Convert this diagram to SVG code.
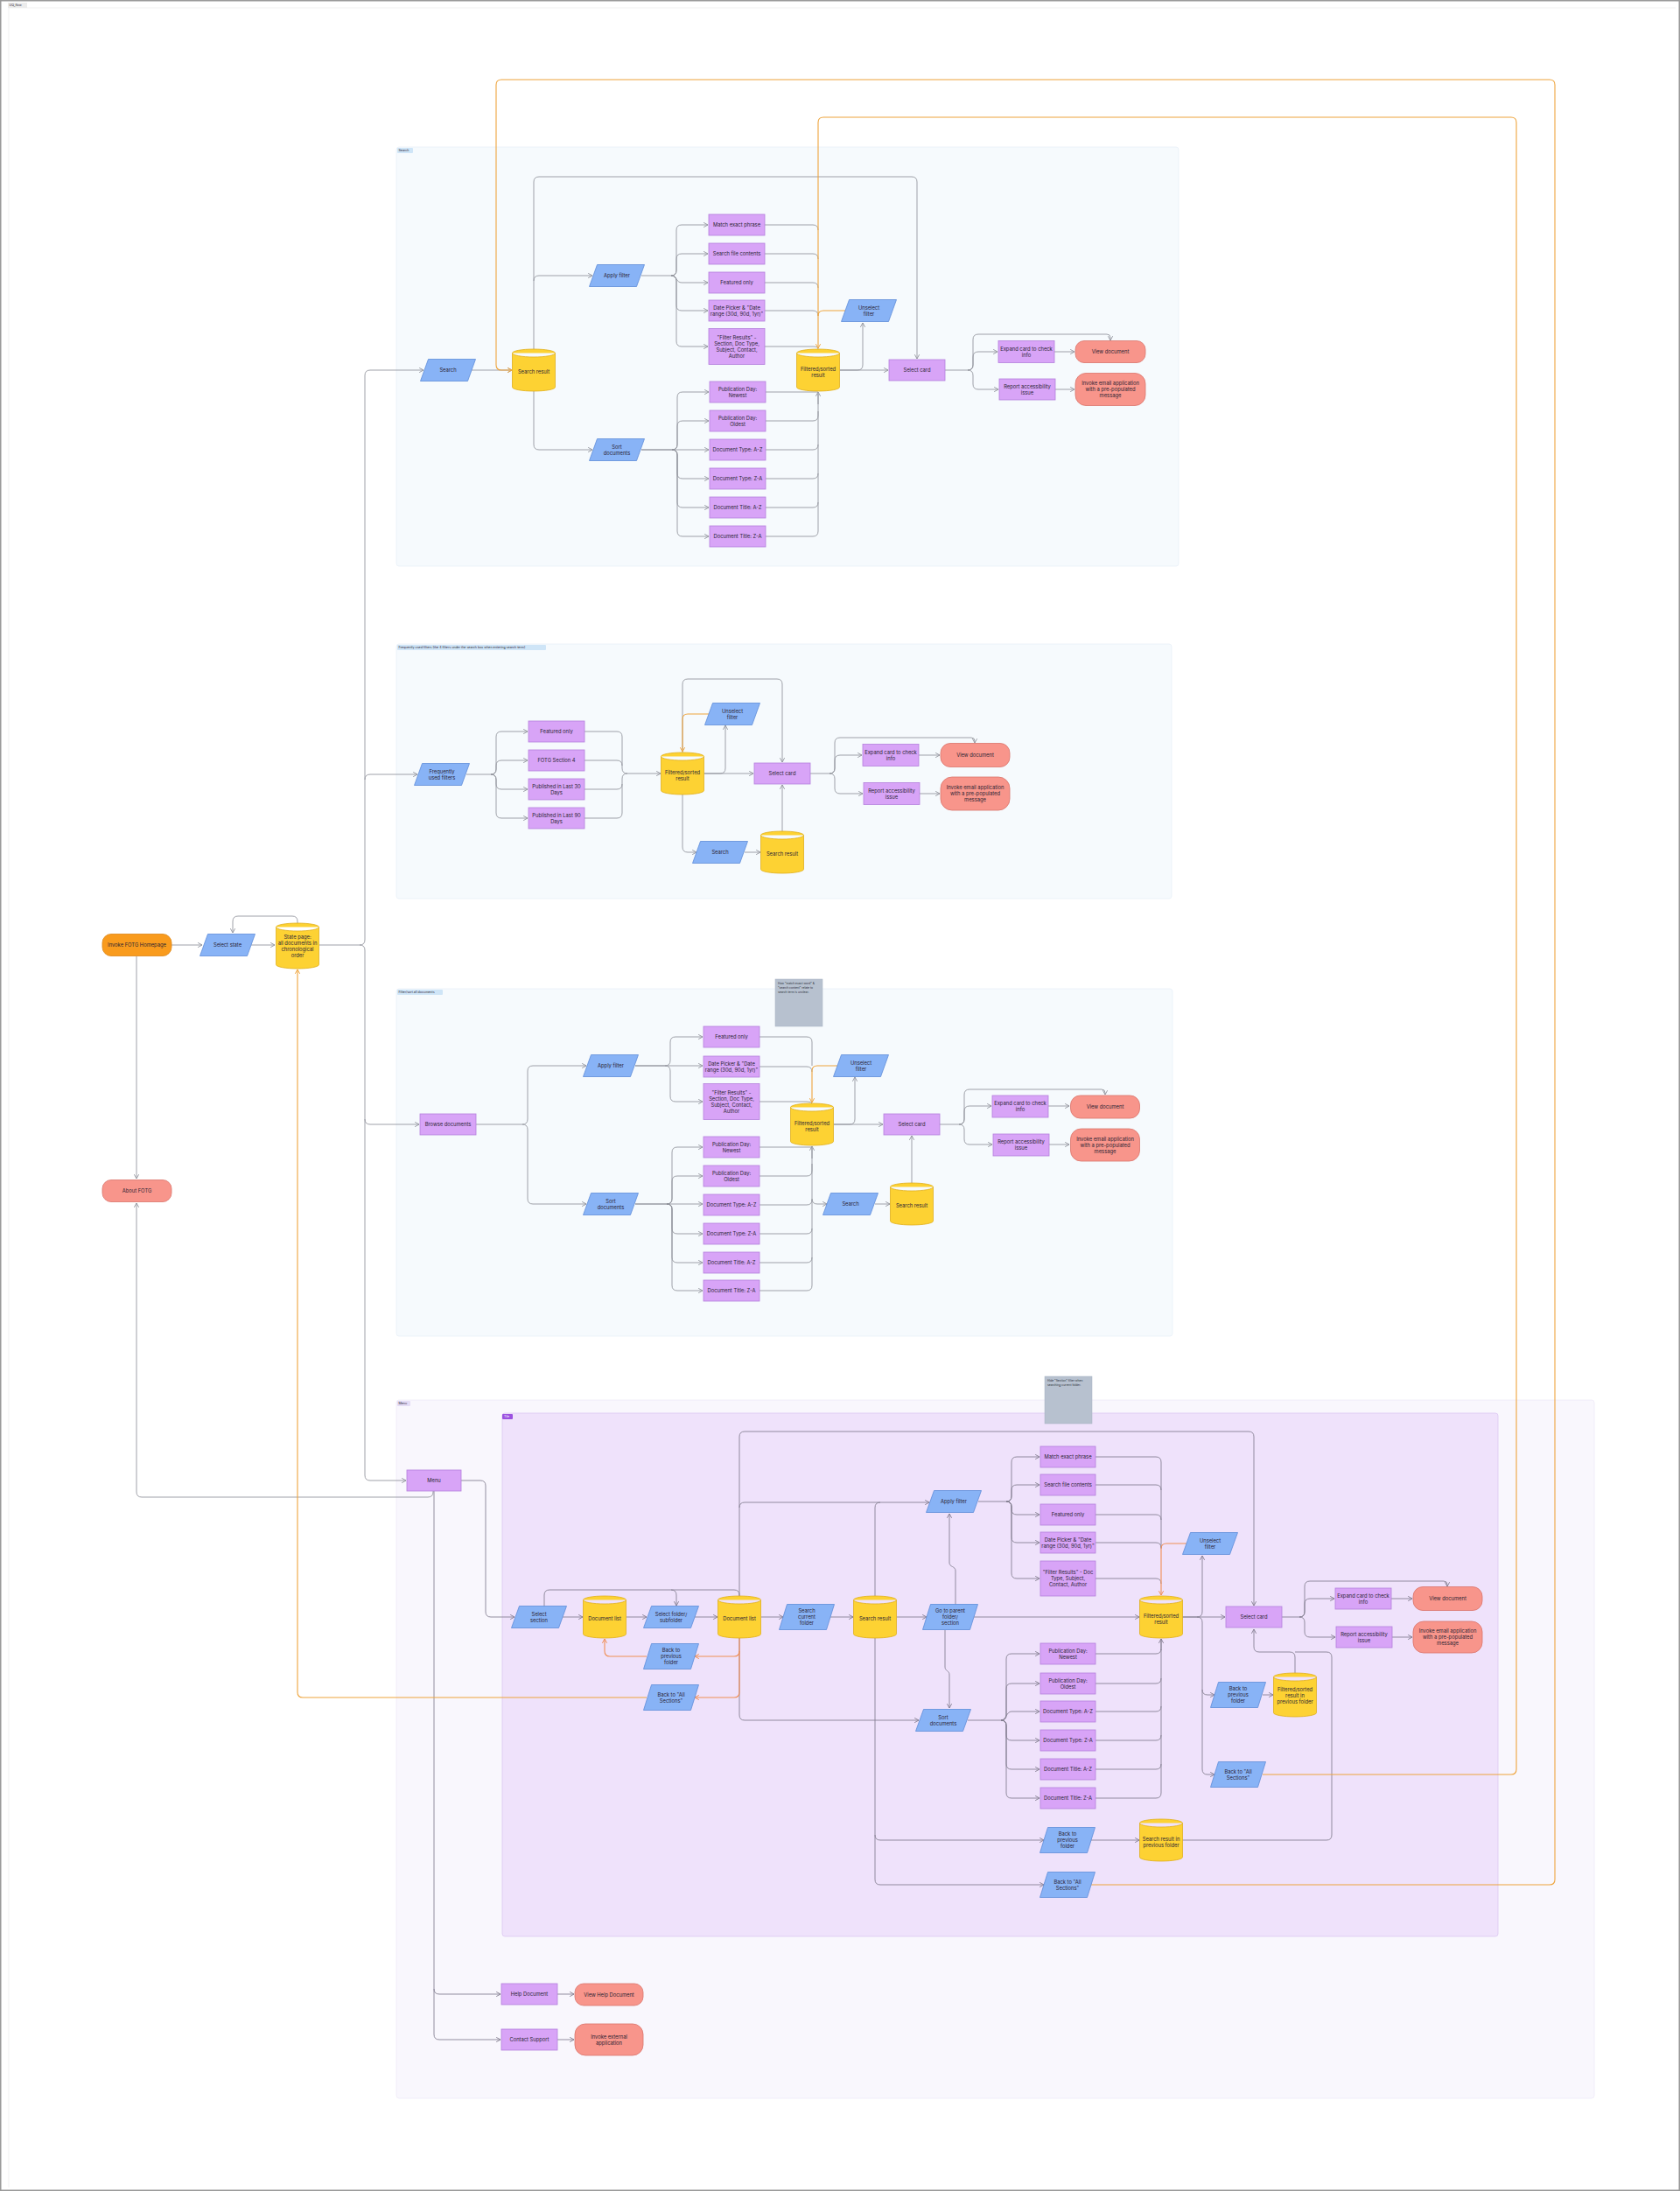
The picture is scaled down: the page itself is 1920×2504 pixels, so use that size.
<svg xmlns="http://www.w3.org/2000/svg" width="1920" height="2504" viewBox="0 0 1920 2504">
<defs>
<style>
.t{font-family:Inter,"Liberation Sans",Arial,sans-serif;font-size:5.8px;fill:#2b2433;text-anchor:middle}
.tag{font-family:Inter,"Liberation Sans",Arial,sans-serif;font-size:3.6px;fill:#2b2433}
.nt{font-family:Inter,"Liberation Sans",Arial,sans-serif;font-size:3.3px;fill:#2b2f3a}
.p{fill:#d8a4f7;stroke:#b47fdc;stroke-width:0.8}
.io{fill:#88b3f6;stroke:#5d8cd8;stroke-width:0.8;stroke-linejoin:round}
.db{fill:#fdd233;stroke:#dfae1d;stroke-width:0.8}
.e{fill:#f8958b;stroke:#d9736b;stroke-width:0.8}
.s{fill:#f99b1d;stroke:#db8413;stroke-width:0.8}
.c{fill:none;stroke:#8f919a;stroke-width:0.85}
.cm{fill:none;stroke:#817c8e;stroke-width:0.85}
.o{fill:none;stroke:#eea43c;stroke-width:1.1}
.om{fill:none;stroke:#f08f55;stroke-width:1.1}
.sec{fill:#f6fafd;stroke:#e8f0f8;stroke-width:0.8}
.note{fill:#b7c1cf;stroke:#a9b3c2;stroke-width:0.5}
</style>
<marker id="ag" viewBox="0 0 8 8" refX="7" refY="4" markerWidth="7" markerHeight="7" markerUnits="userSpaceOnUse" orient="auto"><path d="M1.5,1 L7,4 L1.5,7" fill="none" stroke="#8f919a" stroke-width="1"/></marker>
<marker id="am" viewBox="0 0 8 8" refX="7" refY="4" markerWidth="7" markerHeight="7" markerUnits="userSpaceOnUse" orient="auto"><path d="M1.5,1 L7,4 L1.5,7" fill="none" stroke="#817c8e" stroke-width="1"/></marker>
<marker id="ao" viewBox="0 0 8 8" refX="7" refY="4" markerWidth="7" markerHeight="7" markerUnits="userSpaceOnUse" orient="auto"><path d="M1.5,1 L7,4 L1.5,7" fill="none" stroke="#eea43c" stroke-width="1.1"/></marker>
<marker id="aom" viewBox="0 0 8 8" refX="7" refY="4" markerWidth="7" markerHeight="7" markerUnits="userSpaceOnUse" orient="auto"><path d="M1.5,1 L7,4 L1.5,7" fill="none" stroke="#f08f55" stroke-width="1.1"/></marker>
</defs>

<rect x="0" y="0" width="1920" height="2504" fill="#ffffff"/>
<rect x="0.75" y="0.75" width="1918.5" height="2502.5" fill="none" stroke="#9a9a9a" stroke-width="1.5"/>
<path d="M10,2500 V9 H1915" fill="none" stroke="#e8e8e8" stroke-width="0.6"/>
<rect x="9" y="3" width="22" height="6" fill="#ececec"/>
<text class="tag" x="10.5" y="7.3">UQ_flow</text>

<!-- sections -->
<g id="section-search">
<rect class="sec" x="453" y="168" width="894" height="479" rx="3"/>
<rect x="454" y="169" width="18" height="6" rx="1" fill="#cfe5f7"/>
<text class="tag" x="455.5" y="173.3">Search</text>
</g>
<g id="section-frequent">
<rect class="sec" x="453" y="736" width="886" height="291" rx="3"/>
<rect x="454" y="737" width="170" height="6" rx="1" fill="#cfe5f7"/>
<text class="tag" x="455.5" y="741.3">Frequently used filters (the 4 filters under the search box when entering search term)</text>
</g>
<g id="section-browse">
<rect class="sec" x="453" y="1130" width="887" height="397" rx="3"/>
<rect x="454" y="1131" width="52" height="6" rx="1" fill="#cfe5f7"/>
<text class="tag" x="455.5" y="1135.3">Filter/sort all documents</text>
</g>
<g id="section-menu">
<rect x="453" y="1600" width="1369" height="798" rx="3" fill="#f9f7fd" stroke="#efeaf8" stroke-width="0.8"/>
<rect x="454" y="1601" width="15" height="6" rx="1" fill="#e4dcf5"/>
<text class="tag" x="455.5" y="1605.3">Menu</text>
<rect x="574" y="1615" width="1138" height="598" rx="3" fill="#efe2fb" stroke="#dcc8f3" stroke-width="0.8"/>
<rect x="574" y="1616" width="12" height="6" rx="1" fill="#9b51e0"/>
<text class="tag" x="576" y="1620.3" style="fill:#ffffff">Tile</text>
</g>
<g id="note-1">
<rect class="note" x="886" y="1119" width="54" height="54"/>
<text class="nt" x="889" y="1125">How "match exact word" &amp;</text>
<text class="nt" x="889" y="1130">"search content" relate to</text>
<text class="nt" x="889" y="1135">search term is unclear.</text>
</g>
<g id="note-2">
<rect class="note" x="1194" y="1573" width="54" height="54"/>
<text class="nt" x="1197" y="1579">Hide "Section" filter when</text>
<text class="nt" x="1197" y="1584">searching current folder.</text>
</g>

<!-- connectors -->
<g id="connectors">
<!-- left -->
<path class="c" d="M196,1080 H231" marker-end="url(#ag)"/>
<path class="c" d="M287,1080 H314" marker-end="url(#ag)"/>
<path class="c" d="M340,1055 V1053 Q340,1047 334,1047 H272 Q266,1047 266,1053 V1066" marker-end="url(#ag)"/>
<path class="c" d="M156,1093 V1347" marker-end="url(#ag)"/>
<path class="c" d="M365,1080 H411 Q417,1080 417,1074 V429 Q417,423 423,423 H484" marker-end="url(#ag)"/>
<path class="c" d="M417,891 Q417,885 423,885 H477" marker-end="url(#ag)"/>
<path class="c" d="M411,1080 Q417,1080 417,1086 V1279 Q417,1285 423,1285 H479" marker-end="url(#ag)"/>
<path class="c" d="M417,1279 V1686 Q417,1692 423,1692 H464" marker-end="url(#ag)"/>
<path class="c" d="M495,1704 V1705 Q495,1711 489,1711 H162 Q156,1711 156,1705 V1375" marker-end="url(#ag)"/>

<!-- search section -->
<path class="c" d="M539,423 H585" marker-end="url(#ag)"/>
<path class="c" d="M610,399 V208 Q610,202 616,202 H1042 Q1048,202 1048,208 V410" marker-end="url(#ag)"/>
<path class="c" d="M610,321 Q610,315 616,315 H677" marker-end="url(#ag)"/>
<path class="c" d="M610,447 V508 Q610,514 616,514 H677" marker-end="url(#ag)"/>
<path class="c" d="M733,315 H767 Q773,315 773,309 V263 Q773,257 779,257 H809" marker-end="url(#ag)"/>
<path class="c" d="M767,315 Q773,315 773,309 V296 Q773,290 779,290 H809" marker-end="url(#ag)"/>
<path class="c" d="M767,315 C773,315 773,323 779,323 H809" marker-end="url(#ag)"/>
<path class="c" d="M767,315 Q773,315 773,321 V349 Q773,355 779,355 H809" marker-end="url(#ag)"/>
<path class="c" d="M767,315 Q773,315 773,321 V390 Q773,396 779,396 H809" marker-end="url(#ag)"/>
<path class="c" d="M733,514 H768 Q774,514 774,508 V454 Q774,448 780,448 H810" marker-end="url(#ag)"/>
<path class="c" d="M768,514 Q774,514 774,508 V487 Q774,481 780,481 H810" marker-end="url(#ag)"/>
<path class="c" d="M733,514 H810" marker-end="url(#ag)"/>
<path class="c" d="M768,514 Q774,514 774,520 V541 Q774,547 780,547 H810" marker-end="url(#ag)"/>
<path class="c" d="M768,514 Q774,514 774,520 V574 Q774,580 780,580 H810" marker-end="url(#ag)"/>
<path class="c" d="M768,514 Q774,514 774,520 V607 Q774,613 780,613 H810" marker-end="url(#ag)"/>
<path class="c" d="M874,257 H929 Q935,257 935,263 M874,290 H929 Q935,290 935,296 M874,323 H929 Q935,323 935,329 M874,355 H929 Q935,355 935,361 M874,396 H929 Q935,396 935,399"/>
<path class="c" d="M875,448 H935 M875,481 H929 Q935,481 935,475 V450 M875,514 H929 Q935,514 935,508 M875,547 H929 Q935,547 935,541 M875,580 H929 Q935,580 935,574 M875,613 H929 Q935,613 935,607 V470"/>
<path class="c" d="M935,462 V448" marker-end="url(#ag)"/>
<path class="c" d="M960,423 H1015" marker-end="url(#ag)"/>
<path class="c" d="M960,423 H980 Q986,423 986,417 V369" marker-end="url(#ag)"/>
<path class="c" d="M1080,423 H1106 Q1112,423 1112,417 V388 Q1112,382 1118,382 H1265 Q1269,382 1269,386 V389" marker-end="url(#ag)"/>
<path class="c" d="M1106,423 Q1112,423 1112,417 V408 Q1112,402 1118,402 H1140" marker-end="url(#ag)"/>
<path class="c" d="M1106,423 Q1112,423 1112,429 V439 Q1112,445 1118,445 H1141" marker-end="url(#ag)"/>
<path class="c" d="M1205,402 H1228" marker-end="url(#ag)"/>
<path class="c" d="M1206,445 H1228" marker-end="url(#ag)"/>

<!-- frequently used -->
<path class="c" d="M533,885 H561 Q567,885 567,879 V842 Q567,836 573,836 H603" marker-end="url(#ag)"/>
<path class="c" d="M561,885 Q567,885 567,879 V875 Q567,869 573,869 H603" marker-end="url(#ag)"/>
<path class="c" d="M561,885 Q567,885 567,891 V896 Q567,902 573,902 H603" marker-end="url(#ag)"/>
<path class="c" d="M561,885 Q567,885 567,891 V929 Q567,935 573,935 H603" marker-end="url(#ag)"/>
<path class="c" d="M668,836 H705 Q711,836 711,842 V878 Q711,884 717,884 M668,869 H705 Q711,869 711,875 M668,902 H705 Q711,902 711,896 V890 Q711,884 717,884 M668,935 H705 Q711,935 711,929 V896"/>
<path class="c" d="M717,884 H755" marker-end="url(#ag)"/>
<path class="c" d="M780,860 V782 Q780,776 786,776 H888 Q894,776 894,782 V871" marker-end="url(#ag)"/>
<path class="c" d="M805,884 H861" marker-end="url(#ag)"/>
<path class="c" d="M805,884 H823 Q829,884 829,878 V829" marker-end="url(#ag)"/>
<path class="c" d="M780,908 V968 Q780,974 786,974 H796" marker-end="url(#ag)"/>
<path class="c" d="M851,974 H869" marker-end="url(#ag)"/>
<path class="c" d="M894,950 V897" marker-end="url(#ag)"/>
<path class="c" d="M926,884 H948 Q954,884 954,878 V849 Q954,843 960,843 H1110 Q1114,843 1114,847 V849" marker-end="url(#ag)"/>
<path class="c" d="M948,884 Q954,884 954,878 V869 Q954,863 960,863 H985" marker-end="url(#ag)"/>
<path class="c" d="M948,884 Q954,884 954,890 V901 Q954,907 960,907 H986" marker-end="url(#ag)"/>
<path class="c" d="M1050,863 H1074" marker-end="url(#ag)"/>
<path class="c" d="M1051,907 H1074" marker-end="url(#ag)"/>

<!-- browse -->
<path class="c" d="M544,1285 H597 Q603,1285 603,1279 V1224 Q603,1218 609,1218 H670" marker-end="url(#ag)"/>
<path class="c" d="M597,1285 Q603,1285 603,1291 V1370 Q603,1376 609,1376 H670" marker-end="url(#ag)"/>
<path class="c" d="M726,1218 H760 Q766,1218 766,1212 V1191 Q766,1185 772,1185 H803" marker-end="url(#ag)"/>
<path class="c" d="M726,1218 H803" marker-end="url(#ag)"/>
<path class="c" d="M760,1218 Q766,1218 766,1224 V1253 Q766,1259 772,1259 H803" marker-end="url(#ag)"/>
<path class="c" d="M726,1376 H762 Q768,1376 768,1370 V1317 Q768,1311 774,1311 H803" marker-end="url(#ag)"/>
<path class="c" d="M762,1376 Q768,1376 768,1370 V1350 Q768,1344 774,1344 H803" marker-end="url(#ag)"/>
<path class="c" d="M726,1376 H803" marker-end="url(#ag)"/>
<path class="c" d="M762,1376 Q768,1376 768,1382 V1404 Q768,1410 774,1410 H803" marker-end="url(#ag)"/>
<path class="c" d="M762,1376 Q768,1376 768,1382 V1437 Q768,1443 774,1443 H803" marker-end="url(#ag)"/>
<path class="c" d="M762,1376 Q768,1376 768,1382 V1469 Q768,1475 774,1475 H803" marker-end="url(#ag)"/>
<path class="c" d="M868,1185 H922 Q928,1185 928,1191 V1218 M868,1219 H922 Q928,1219 928,1225 M868,1259 H922 Q928,1259 928,1261"/>
<path class="c" d="M868,1311 H928 M868,1344 H922 Q928,1344 928,1338 V1312 M868,1377 H922 Q928,1377 928,1371 M868,1410 H922 Q928,1410 928,1404 M868,1443 H922 Q928,1443 928,1437 M868,1475 H922 Q928,1475 928,1469 V1330"/>
<path class="c" d="M928,1324 V1310" marker-end="url(#ag)"/>
<path class="c" d="M928,1370 Q928,1376 934,1376 H945" marker-end="url(#ag)"/>
<path class="c" d="M953,1285 H1009" marker-end="url(#ag)"/>
<path class="c" d="M953,1285 H971 Q977,1285 977,1279 V1231" marker-end="url(#ag)"/>
<path class="c" d="M1000,1376 H1017" marker-end="url(#ag)"/>
<path class="c" d="M1042,1352 V1298" marker-end="url(#ag)"/>
<path class="c" d="M1074,1285 H1096 Q1102,1285 1102,1279 V1251 Q1102,1245 1108,1245 H1259 Q1263,1245 1263,1249 V1251" marker-end="url(#ag)"/>
<path class="c" d="M1096,1285 Q1102,1285 1102,1279 V1270 Q1102,1264 1108,1264 H1133" marker-end="url(#ag)"/>
<path class="c" d="M1096,1285 Q1102,1285 1102,1291 V1302 Q1102,1308 1108,1308 H1134" marker-end="url(#ag)"/>
<path class="c" d="M1198,1264 H1222" marker-end="url(#ag)"/>
<path class="c" d="M1199,1308 H1222" marker-end="url(#ag)"/>

<!-- menu -->
<path class="cm" d="M527,1692 H549 Q555,1692 555,1698 V1842 Q555,1848 561,1848 H588" marker-end="url(#am)"/>
<path class="cm" d="M496,1704 V2273 Q496,2279 502,2279 H572" marker-end="url(#am)"/>
<path class="cm" d="M496,2273 V2325 Q496,2331 502,2331 H572" marker-end="url(#am)"/>
<path class="cm" d="M637,2279 H656" marker-end="url(#am)"/>
<path class="cm" d="M637,2331 H656" marker-end="url(#am)"/>
<path class="cm" d="M643,1848 H666" marker-end="url(#am)"/>
<path class="cm" d="M716,1848 H739" marker-end="url(#am)"/>
<path class="cm" d="M794,1848 H820" marker-end="url(#am)"/>
<path class="cm" d="M870,1848 H895" marker-end="url(#am)"/>
<path class="cm" d="M949,1848 H975" marker-end="url(#am)"/>
<path class="cm" d="M1025,1848 H1059" marker-end="url(#am)"/>
<path class="cm" d="M1113,1848 H1302" marker-end="url(#am)"/>
<path class="cm" d="M622,1836 V1823 Q622,1817 628,1817 H839 Q845,1817 845,1823 V1824"/>
<path class="cm" d="M767,1817 Q773,1817 773,1823 V1835" marker-end="url(#am)"/>
<path class="cm" d="M845,1824 V1642 Q845,1636 851,1636 H1427 Q1433,1636 1433,1642 V1835" marker-end="url(#am)"/>
<path class="cm" d="M845,1723 Q845,1717 851,1717 H1062" marker-end="url(#am)"/>
<path class="cm" d="M1000,1824 V1723 Q1000,1717 1006,1717"/>
<path class="cm" d="M1092,1834 V1795 C1092,1790 1085,1791 1085,1786 V1730" marker-end="url(#am)"/>
<path class="cm" d="M1080,1863 V1905 C1080,1910 1085,1909 1085,1914 V1952" marker-end="url(#am)"/>
<path class="cm" d="M845,1872 V1960 Q845,1966 851,1966 H1050" marker-end="url(#am)"/>
<path class="cm" d="M1000,1872 V2097 Q1000,2103 1006,2103 H1193" marker-end="url(#am)"/>
<path class="cm" d="M1000,2097 V2148 Q1000,2154 1006,2154 H1193" marker-end="url(#am)"/>
<path class="cm" d="M1118,1716 H1150 Q1156,1716 1156,1710 V1671 Q1156,1665 1162,1665 H1188" marker-end="url(#am)"/>
<path class="cm" d="M1150,1716 Q1156,1716 1156,1710 V1703 Q1156,1697 1162,1697 H1188" marker-end="url(#am)"/>
<path class="cm" d="M1150,1716 Q1156,1716 1156,1722 V1725 Q1156,1731 1162,1731 H1188" marker-end="url(#am)"/>
<path class="cm" d="M1150,1716 Q1156,1716 1156,1722 V1757 Q1156,1763 1162,1763 H1188" marker-end="url(#am)"/>
<path class="cm" d="M1150,1716 Q1156,1716 1156,1722 V1798 Q1156,1804 1162,1804 H1188" marker-end="url(#am)"/>
<path class="cm" d="M1106,1966 H1144 Q1150,1966 1150,1960 V1896 Q1150,1890 1156,1890 H1188" marker-end="url(#am)"/>
<path class="cm" d="M1144,1966 Q1150,1966 1150,1960 V1930 Q1150,1924 1156,1924 H1188" marker-end="url(#am)"/>
<path class="cm" d="M1144,1966 C1150,1966 1150,1956 1156,1956 H1188" marker-end="url(#am)"/>
<path class="cm" d="M1144,1966 Q1150,1966 1150,1972 V1983 Q1150,1989 1156,1989 H1188" marker-end="url(#am)"/>
<path class="cm" d="M1144,1966 Q1150,1966 1150,1972 V2016 Q1150,2022 1156,2022 H1188" marker-end="url(#am)"/>
<path class="cm" d="M1144,1966 Q1150,1966 1150,1972 V2049 Q1150,2055 1156,2055 H1188" marker-end="url(#am)"/>
<path class="cm" d="M1252,1665 H1321 Q1327,1665 1327,1671 V1770 M1252,1697 H1321 Q1327,1697 1327,1703 M1252,1731 H1321 Q1327,1731 1327,1737 M1252,1763 H1321 Q1327,1763 1327,1769 M1252,1804 H1321 Q1327,1804 1327,1810"/>
<path class="cm" d="M1252,1890 H1321 Q1327,1890 1327,1884 V1873 M1252,1924 H1321 Q1327,1924 1327,1918 M1252,1956 H1321 Q1327,1956 1327,1950 M1252,1989 H1321 Q1327,1989 1327,1983 M1252,2022 H1321 Q1327,2022 1327,2016 M1252,2055 H1321 Q1327,2055 1327,2049 V1885"/>
<path class="cm" d="M1327,1886 V1873" marker-end="url(#am)"/>
<path class="cm" d="M1351,1848 H1400" marker-end="url(#am)"/>
<path class="cm" d="M1351,1848 H1368 Q1374,1848 1374,1842 V1778" marker-end="url(#am)"/>
<path class="cm" d="M1368,1848 Q1374,1848 1374,1854 V1931 Q1374,1937 1380,1937 H1388" marker-end="url(#am)"/>
<path class="cm" d="M1374,1931 V2022 Q1374,2028 1380,2028 H1388" marker-end="url(#am)"/>
<path class="cm" d="M1443,1937 H1455" marker-end="url(#am)"/>
<path class="cm" d="M1480,1912 V1894 Q1480,1888 1474,1888 H1439 Q1433,1888 1433,1882 V1862" marker-end="url(#am)"/>
<path class="cm" d="M1351,2103 H1516 Q1522,2103 1522,2097 V1894 Q1522,1888 1516,1888 H1480"/>
<path class="cm" d="M1247,2103 H1302" marker-end="url(#am)"/>
<path class="cm" d="M1465,1848 H1485 Q1491,1848 1491,1842 V1813 Q1491,1807 1497,1807 H1650 Q1654,1807 1654,1811 V1813" marker-end="url(#am)"/>
<path class="cm" d="M1485,1848 Q1491,1848 1491,1842 V1833 Q1491,1827 1497,1827 H1525" marker-end="url(#am)"/>
<path class="cm" d="M1485,1848 Q1491,1848 1491,1854 V1865 Q1491,1871 1497,1871 H1526" marker-end="url(#am)"/>
<path class="cm" d="M1590,1827 H1614" marker-end="url(#am)"/>
<path class="cm" d="M1591,1871 H1614" marker-end="url(#am)"/>

<!-- orange -->
<path class="o" d="M1247,2154 H1771 Q1777,2154 1777,2148 V97 Q1777,91 1771,91 H573 Q567,91 567,97 V417 Q567,423 573,423 H585" marker-end="url(#ao)"/>
<path class="o" d="M1443,2028 H1727 Q1733,2028 1733,2022 V140 Q1733,134 1727,134 H941 Q935,134 935,140 V398" marker-end="url(#ao)"/>
<path class="o" d="M966,355 H941 Q935,355 935,361"/>
<path class="o" d="M811,816 H786 Q780,816 780,822 V859" marker-end="url(#ao)"/>
<path class="o" d="M957,1218 H934 Q928,1218 928,1224 V1260" marker-end="url(#ao)"/>
<path class="o" d="M739,1940 H346 Q340,1940 340,1934 V1108" marker-end="url(#ao)"/>
<path class="om" d="M845,1872 V1887 Q845,1893 839,1893 H794" marker-end="url(#aom)"/>
<path class="om" d="M845,1887 V1934 Q845,1940 839,1940 H794" marker-end="url(#aom)"/>
<path class="om" d="M739,1893 H697 Q691,1893 691,1887 V1873" marker-end="url(#aom)"/>
<path class="om" d="M1356,1764 H1333 Q1327,1764 1327,1770 V1823" marker-end="url(#aom)"/>
</g>

<!-- left nodes -->
<g id="invoke-fotg"><rect class="s" x="117" y="1067.5" width="79" height="25" rx="10"/><text class="t" x="156.5" y="1082">Invoke FOTG Homepage</text></g>
<g id="select-state"><polygon class="io" points="237.5,1067.5 291.5,1067.5 282.5,1092.5 228.5,1092.5"/><text class="t" x="260" y="1082">Select state</text></g>
<g id="state-page"><path class="db" d="M315.5,1059.5 A24.5,4.5 0 0 1 364.5,1059.5 V1102.5 A24.5,4.5 0 0 1 315.5,1102.5 Z M315.5,1059.5 A24.5,4.5 0 0 0 364.5,1059.5"/><text class="t" x="340" y="1073"><tspan>State page:</tspan><tspan x="340" dy="7">all documents in</tspan><tspan x="340" dy="7">chronological</tspan><tspan x="340" dy="7">order</tspan></text></g>
<g id="about-fotg"><rect class="e" x="117" y="1348.5" width="79" height="25" rx="10"/><text class="t" x="156.5" y="1363">About FOTG</text></g>

<!-- search nodes -->
<g id="s-search"><polygon class="io" points="489.5,410.5 543.5,410.5 534.5,435.5 480.5,435.5"/><text class="t" x="512" y="425">Search</text></g>
<g id="s-result"><path class="db" d="M585.5,403.5 A24.5,4.5 0 0 1 634.5,403.5 V442.5 A24.5,4.5 0 0 1 585.5,442.5 Z M585.5,403.5 A24.5,4.5 0 0 0 634.5,403.5"/><text class="t" x="610" y="427">Search result</text></g>
<g id="s-apply"><polygon class="io" points="682.5,302.5 736.5,302.5 727.5,327.5 673.5,327.5"/><text class="t" x="705" y="317">Apply filter</text></g>
<g id="s-sort"><polygon class="io" points="682.5,501.5 736.5,501.5 727.5,526.5 673.5,526.5"/><text class="t" x="705" y="512.5"><tspan>Sort</tspan><tspan x="705" dy="7">documents</tspan></text></g>
<g id="s-f1"><rect class="p" x="810" y="245" width="64" height="24"/><text class="t" x="842" y="259">Match exact phrase</text></g>
<g id="s-f2"><rect class="p" x="810" y="278" width="64" height="24"/><text class="t" x="842" y="292">Search file contents</text></g>
<g id="s-f3"><rect class="p" x="810" y="311" width="64" height="24"/><text class="t" x="842" y="325">Featured only</text></g>
<g id="s-f4"><rect class="p" x="810" y="343" width="64" height="24"/><text class="t" x="842" y="353.5"><tspan>Date Picker &amp; "Date</tspan><tspan x="842" dy="7">range (30d, 90d, 1yr)"</tspan></text></g>
<g id="s-f5"><rect class="p" x="810" y="375.5" width="64" height="41"/><text class="t" x="842" y="387.5"><tspan>"Filter Results" -</tspan><tspan x="842" dy="7">Section, Doc Type,</tspan><tspan x="842" dy="7">Subject, Contact,</tspan><tspan x="842" dy="7">Author</tspan></text></g>
<g id="s-s1"><rect class="p" x="811" y="436" width="64" height="24"/><text class="t" x="843" y="446.5"><tspan>Publication Day:</tspan><tspan x="843" dy="7">Newest</tspan></text></g>
<g id="s-s2"><rect class="p" x="811" y="469" width="64" height="24"/><text class="t" x="843" y="479.5"><tspan>Publication Day:</tspan><tspan x="843" dy="7">Oldest</tspan></text></g>
<g id="s-s3"><rect class="p" x="811" y="502" width="64" height="24"/><text class="t" x="843" y="516">Document Type: A-Z</text></g>
<g id="s-s4"><rect class="p" x="811" y="535" width="64" height="24"/><text class="t" x="843" y="549">Document Type: Z-A</text></g>
<g id="s-s5"><rect class="p" x="811" y="568" width="64" height="24"/><text class="t" x="843" y="582">Document Title: A-Z</text></g>
<g id="s-s6"><rect class="p" x="811" y="601" width="64" height="24"/><text class="t" x="843" y="615">Document Title: Z-A</text></g>
<g id="s-filtered"><path class="db" d="M910.5,403.5 A24.5,4.5 0 0 1 959.5,403.5 V442.5 A24.5,4.5 0 0 1 910.5,442.5 Z M910.5,403.5 A24.5,4.5 0 0 0 959.5,403.5"/><text class="t" x="935" y="423.5"><tspan>Filtered/sorted</tspan><tspan x="935" dy="7">result</tspan></text></g>
<g id="s-unselect"><polygon class="io" points="970.5,342.5 1024.5,342.5 1015.5,367.5 961.5,367.5"/><text class="t" x="993" y="353.5"><tspan>Unselect</tspan><tspan x="993" dy="7">filter</tspan></text></g>
<g id="s-card"><rect class="p" x="1016" y="411" width="64" height="24"/><text class="t" x="1048" y="425">Select card</text></g>
<g id="s-expand"><rect class="p" x="1141" y="389.5" width="64" height="25"/><text class="t" x="1173" y="400.5"><tspan>Expand card to check</tspan><tspan x="1173" dy="7">info</tspan></text></g>
<g id="s-view"><rect class="e" x="1229" y="389.5" width="80" height="25" rx="10"/><text class="t" x="1269" y="404">View document</text></g>
<g id="s-report"><rect class="p" x="1142" y="433" width="64" height="24"/><text class="t" x="1174" y="443.5"><tspan>Report accessibility</tspan><tspan x="1174" dy="7">issue</tspan></text></g>
<g id="s-email"><rect class="e" x="1229" y="426.5" width="80" height="37" rx="12"/><text class="t" x="1269" y="440"><tspan>Invoke email application</tspan><tspan x="1269" dy="7">with a pre-populated</tspan><tspan x="1269" dy="7">message</tspan></text></g>

<!-- frequently used nodes -->
<g id="f-freq"><polygon class="io" points="482.5,872.5 536.5,872.5 527.5,897.5 473.5,897.5"/><text class="t" x="505" y="883.5"><tspan>Frequently</tspan><tspan x="505" dy="7">used filters</tspan></text></g>
<g id="f-b1"><rect class="p" x="604" y="824" width="64" height="24"/><text class="t" x="636" y="838">Featured only</text></g>
<g id="f-b2"><rect class="p" x="604" y="857" width="64" height="24"/><text class="t" x="636" y="871">FOTG Section 4</text></g>
<g id="f-b3"><rect class="p" x="604" y="890" width="64" height="24"/><text class="t" x="636" y="900.5"><tspan>Published in Last 30</tspan><tspan x="636" dy="7">Days</tspan></text></g>
<g id="f-b4"><rect class="p" x="604" y="923" width="64" height="24"/><text class="t" x="636" y="933.5"><tspan>Published in Last 90</tspan><tspan x="636" dy="7">Days</tspan></text></g>
<g id="f-filtered"><path class="db" d="M755.5,864.5 A24.5,4.5 0 0 1 804.5,864.5 V903.5 A24.5,4.5 0 0 1 755.5,903.5 Z M755.5,864.5 A24.5,4.5 0 0 0 804.5,864.5"/><text class="t" x="780" y="884.5"><tspan>Filtered/sorted</tspan><tspan x="780" dy="7">result</tspan></text></g>
<g id="f-unselect"><polygon class="io" points="814.5,803.5 868.5,803.5 859.5,828.5 805.5,828.5"/><text class="t" x="837" y="814.5"><tspan>Unselect</tspan><tspan x="837" dy="7">filter</tspan></text></g>
<g id="f-card"><rect class="p" x="862" y="872" width="64" height="24"/><text class="t" x="894" y="886">Select card</text></g>
<g id="f-search"><polygon class="io" points="800.5,961.5 854.5,961.5 845.5,986.5 791.5,986.5"/><text class="t" x="823" y="976">Search</text></g>
<g id="f-result"><path class="db" d="M869.5,954.5 A24.5,4.5 0 0 1 918.5,954.5 V993.5 A24.5,4.5 0 0 1 869.5,993.5 Z M869.5,954.5 A24.5,4.5 0 0 0 918.5,954.5"/><text class="t" x="894" y="978">Search result</text></g>
<g id="f-expand"><rect class="p" x="986" y="850.5" width="64" height="25"/><text class="t" x="1018" y="861.5"><tspan>Expand card to check</tspan><tspan x="1018" dy="7">info</tspan></text></g>
<g id="f-view"><rect class="e" x="1075" y="849.5" width="79" height="27" rx="11"/><text class="t" x="1114.5" y="865">View document</text></g>
<g id="f-report"><rect class="p" x="987" y="894.5" width="64" height="25"/><text class="t" x="1019" y="905.5"><tspan>Report accessibility</tspan><tspan x="1019" dy="7">issue</tspan></text></g>
<g id="f-email"><rect class="e" x="1075" y="888" width="79" height="38" rx="13"/><text class="t" x="1114.5" y="902"><tspan>Invoke email application</tspan><tspan x="1114.5" dy="7">with a pre-populated</tspan><tspan x="1114.5" dy="7">message</tspan></text></g>

<!-- browse nodes -->
<g id="b-browse"><rect class="p" x="480" y="1273" width="64" height="24"/><text class="t" x="512" y="1287">Browse documents</text></g>
<g id="b-apply"><polygon class="io" points="675.5,1205.5 729.5,1205.5 720.5,1230.5 666.5,1230.5"/><text class="t" x="698" y="1220">Apply filter</text></g>
<g id="b-sort"><polygon class="io" points="675.5,1363.5 729.5,1363.5 720.5,1388.5 666.5,1388.5"/><text class="t" x="698" y="1374.5"><tspan>Sort</tspan><tspan x="698" dy="7">documents</tspan></text></g>
<g id="b-f1"><rect class="p" x="804" y="1173" width="64" height="24"/><text class="t" x="836" y="1187">Featured only</text></g>
<g id="b-f2"><rect class="p" x="804" y="1207" width="64" height="24"/><text class="t" x="836" y="1217.5"><tspan>Date Picker &amp; "Date</tspan><tspan x="836" dy="7">range (30d, 90d, 1yr)"</tspan></text></g>
<g id="b-f3"><rect class="p" x="804" y="1238.5" width="64" height="41"/><text class="t" x="836" y="1250.5"><tspan>"Filter Results" -</tspan><tspan x="836" dy="7">Section, Doc Type,</tspan><tspan x="836" dy="7">Subject, Contact,</tspan><tspan x="836" dy="7">Author</tspan></text></g>
<g id="b-s1"><rect class="p" x="804" y="1299" width="64" height="24"/><text class="t" x="836" y="1309.5"><tspan>Publication Day:</tspan><tspan x="836" dy="7">Newest</tspan></text></g>
<g id="b-s2"><rect class="p" x="804" y="1332" width="64" height="24"/><text class="t" x="836" y="1342.5"><tspan>Publication Day:</tspan><tspan x="836" dy="7">Oldest</tspan></text></g>
<g id="b-s3"><rect class="p" x="804" y="1365" width="64" height="24"/><text class="t" x="836" y="1379">Document Type: A-Z</text></g>
<g id="b-s4"><rect class="p" x="804" y="1398" width="64" height="24"/><text class="t" x="836" y="1412">Document Type: Z-A</text></g>
<g id="b-s5"><rect class="p" x="804" y="1431" width="64" height="24"/><text class="t" x="836" y="1445">Document Title: A-Z</text></g>
<g id="b-s6"><rect class="p" x="804" y="1463" width="64" height="24"/><text class="t" x="836" y="1477">Document Title: Z-A</text></g>
<g id="b-filtered"><path class="db" d="M903.5,1265.5 A24.5,4.5 0 0 1 952.5,1265.5 V1304.5 A24.5,4.5 0 0 1 903.5,1304.5 Z M903.5,1265.5 A24.5,4.5 0 0 0 952.5,1265.5"/><text class="t" x="928" y="1285.5"><tspan>Filtered/sorted</tspan><tspan x="928" dy="7">result</tspan></text></g>
<g id="b-unselect"><polygon class="io" points="961.5,1205.5 1015.5,1205.5 1006.5,1230.5 952.5,1230.5"/><text class="t" x="984" y="1216.5"><tspan>Unselect</tspan><tspan x="984" dy="7">filter</tspan></text></g>
<g id="b-card"><rect class="p" x="1010" y="1273" width="64" height="24"/><text class="t" x="1042" y="1287">Select card</text></g>
<g id="b-search"><polygon class="io" points="949.5,1363.5 1003.5,1363.5 994.5,1388.5 940.5,1388.5"/><text class="t" x="972" y="1378">Search</text></g>
<g id="b-result"><path class="db" d="M1017.5,1356.5 A24.5,4.5 0 0 1 1066.5,1356.5 V1395.5 A24.5,4.5 0 0 1 1017.5,1395.5 Z M1017.5,1356.5 A24.5,4.5 0 0 0 1066.5,1356.5"/><text class="t" x="1042" y="1380">Search result</text></g>
<g id="b-expand"><rect class="p" x="1134" y="1252" width="64" height="25"/><text class="t" x="1166" y="1263"><tspan>Expand card to check</tspan><tspan x="1166" dy="7">info</tspan></text></g>
<g id="b-view"><rect class="e" x="1223.5" y="1252" width="79" height="26" rx="11"/><text class="t" x="1263" y="1267">View document</text></g>
<g id="b-report"><rect class="p" x="1135" y="1296" width="64" height="25"/><text class="t" x="1167" y="1307"><tspan>Report accessibility</tspan><tspan x="1167" dy="7">issue</tspan></text></g>
<g id="b-email"><rect class="e" x="1223.5" y="1290" width="79" height="37" rx="12"/><text class="t" x="1263" y="1303.5"><tspan>Invoke email application</tspan><tspan x="1263" dy="7">with a pre-populated</tspan><tspan x="1263" dy="7">message</tspan></text></g>

<!-- menu nodes -->
<g id="m-menu"><rect class="p" x="465" y="1680" width="62" height="24"/><text class="t" x="496" y="1694">Menu</text></g>
<g id="m-selsec"><polygon class="io" points="593.5,1835.5 647.5,1835.5 638.5,1860.5 584.5,1860.5"/><text class="t" x="616" y="1846.5"><tspan>Select</tspan><tspan x="616" dy="7">section</tspan></text></g>
<g id="m-doc1"><path class="db" d="M666.5,1828.5 A24.5,4.5 0 0 1 715.5,1828.5 V1867.5 A24.5,4.5 0 0 1 666.5,1867.5 Z M666.5,1828.5 A24.5,4.5 0 0 0 715.5,1828.5"/><text class="t" x="691" y="1852">Document list</text></g>
<g id="m-selfold"><polygon class="io" points="744.5,1835.5 798.5,1835.5 789.5,1860.5 735.5,1860.5"/><text class="t" x="767" y="1846.5"><tspan>Select folder/</tspan><tspan x="767" dy="7">subfolder</tspan></text></g>
<g id="m-doc2"><path class="db" d="M820.5,1828.5 A24.5,4.5 0 0 1 869.5,1828.5 V1867.5 A24.5,4.5 0 0 1 820.5,1867.5 Z M820.5,1828.5 A24.5,4.5 0 0 0 869.5,1828.5"/><text class="t" x="845" y="1852">Document list</text></g>
<g id="m-searchcur"><polygon class="io" points="899.5,1833.5 953.5,1833.5 944.5,1862.5 890.5,1862.5"/><text class="t" x="922" y="1843"><tspan>Search</tspan><tspan x="922" dy="7">current</tspan><tspan x="922" dy="7">folder</tspan></text></g>
<g id="m-sresult"><path class="db" d="M975.5,1828.5 A24.5,4.5 0 0 1 1024.5,1828.5 V1867.5 A24.5,4.5 0 0 1 975.5,1867.5 Z M975.5,1828.5 A24.5,4.5 0 0 0 1024.5,1828.5"/><text class="t" x="1000" y="1852">Search result</text></g>
<g id="m-parent"><polygon class="io" points="1063.5,1833.5 1117.5,1833.5 1108.5,1862.5 1054.5,1862.5"/><text class="t" x="1086" y="1843"><tspan>Go to parent</tspan><tspan x="1086" dy="7">folder/</tspan><tspan x="1086" dy="7">section</tspan></text></g>
<g id="m-apply"><polygon class="io" points="1067.5,1703.5 1121.5,1703.5 1112.5,1728.5 1058.5,1728.5"/><text class="t" x="1090" y="1718">Apply filter</text></g>
<g id="m-sort"><polygon class="io" points="1055.5,1953.5 1109.5,1953.5 1100.5,1978.5 1046.5,1978.5"/><text class="t" x="1078" y="1964.5"><tspan>Sort</tspan><tspan x="1078" dy="7">documents</tspan></text></g>
<g id="m-backprev1"><polygon class="io" points="744.5,1878.5 798.5,1878.5 789.5,1907.5 735.5,1907.5"/><text class="t" x="767" y="1888"><tspan>Back to</tspan><tspan x="767" dy="7">previous</tspan><tspan x="767" dy="7">folder</tspan></text></g>
<g id="m-backall1"><polygon class="io" points="744.5,1925.5 798.5,1925.5 789.5,1954.5 735.5,1954.5"/><text class="t" x="767" y="1938.5"><tspan>Back to "All</tspan><tspan x="767" dy="7">Sections"</tspan></text></g>
<g id="m-f1"><rect class="p" x="1189" y="1653" width="63" height="24"/><text class="t" x="1220.5" y="1667">Match exact phrase</text></g>
<g id="m-f2"><rect class="p" x="1189" y="1685" width="63" height="24"/><text class="t" x="1220.5" y="1699">Search file contents</text></g>
<g id="m-f3"><rect class="p" x="1189" y="1719" width="63" height="24"/><text class="t" x="1220.5" y="1733">Featured only</text></g>
<g id="m-f4"><rect class="p" x="1189" y="1751" width="63" height="24"/><text class="t" x="1220.5" y="1761.5"><tspan>Date Picker &amp; "Date</tspan><tspan x="1220.5" dy="7">range (30d, 90d, 1yr)"</tspan></text></g>
<g id="m-f5"><rect class="p" x="1189" y="1784" width="63" height="40"/><text class="t" x="1220.5" y="1799"><tspan>"Filter Results" - Doc</tspan><tspan x="1220.5" dy="7">Type, Subject,</tspan><tspan x="1220.5" dy="7">Contact, Author</tspan></text></g>
<g id="m-s1"><rect class="p" x="1189" y="1878" width="63" height="24"/><text class="t" x="1220.5" y="1888.5"><tspan>Publication Day:</tspan><tspan x="1220.5" dy="7">Newest</tspan></text></g>
<g id="m-s2"><rect class="p" x="1189" y="1912" width="63" height="24"/><text class="t" x="1220.5" y="1922.5"><tspan>Publication Day:</tspan><tspan x="1220.5" dy="7">Oldest</tspan></text></g>
<g id="m-s3"><rect class="p" x="1189" y="1944" width="63" height="24"/><text class="t" x="1220.5" y="1958">Document Type: A-Z</text></g>
<g id="m-s4"><rect class="p" x="1189" y="1977" width="63" height="24"/><text class="t" x="1220.5" y="1991">Document Type: Z-A</text></g>
<g id="m-s5"><rect class="p" x="1189" y="2010" width="63" height="24"/><text class="t" x="1220.5" y="2024">Document Title: A-Z</text></g>
<g id="m-s6"><rect class="p" x="1189" y="2043" width="63" height="24"/><text class="t" x="1220.5" y="2057">Document Title: Z-A</text></g>
<g id="m-filtered"><path class="db" d="M1302.5,1828.5 A24.5,4.5 0 0 1 1351.5,1828.5 V1867.5 A24.5,4.5 0 0 1 1302.5,1867.5 Z M1302.5,1828.5 A24.5,4.5 0 0 0 1351.5,1828.5"/><text class="t" x="1327" y="1848.5"><tspan>Filtered/sorted</tspan><tspan x="1327" dy="7">result</tspan></text></g>
<g id="m-unselect"><polygon class="io" points="1360.5,1751.5 1414.5,1751.5 1405.5,1776.5 1351.5,1776.5"/><text class="t" x="1383" y="1762.5"><tspan>Unselect</tspan><tspan x="1383" dy="7">filter</tspan></text></g>
<g id="m-card"><rect class="p" x="1401" y="1836" width="64" height="24"/><text class="t" x="1433" y="1850">Select card</text></g>
<g id="m-expand"><rect class="p" x="1526" y="1815" width="64" height="24"/><text class="t" x="1558" y="1825.5"><tspan>Expand card to check</tspan><tspan x="1558" dy="7">info</tspan></text></g>
<g id="m-view"><rect class="e" x="1615" y="1813.5" width="79" height="27" rx="11"/><text class="t" x="1654.5" y="1829">View document</text></g>
<g id="m-report"><rect class="p" x="1527" y="1859" width="64" height="24"/><text class="t" x="1559" y="1869.5"><tspan>Report accessibility</tspan><tspan x="1559" dy="7">issue</tspan></text></g>
<g id="m-email"><rect class="e" x="1615" y="1853" width="79" height="36" rx="12"/><text class="t" x="1654.5" y="1866"><tspan>Invoke email application</tspan><tspan x="1654.5" dy="7">with a pre-populated</tspan><tspan x="1654.5" dy="7">message</tspan></text></g>
<g id="m-backprev2"><polygon class="io" points="1392.5,1922.5 1446.5,1922.5 1437.5,1951.5 1383.5,1951.5"/><text class="t" x="1415" y="1932"><tspan>Back to</tspan><tspan x="1415" dy="7">previous</tspan><tspan x="1415" dy="7">folder</tspan></text></g>
<g id="m-filtprev"><path class="db" d="M1455.5,1916.5 A24.5,4.5 0 0 1 1504.5,1916.5 V1957.5 A24.5,4.5 0 0 1 1455.5,1957.5 Z M1455.5,1916.5 A24.5,4.5 0 0 0 1504.5,1916.5"/><text class="t" x="1480" y="1933"><tspan>Filtered/sorted</tspan><tspan x="1480" dy="7">result in</tspan><tspan x="1480" dy="7">previous folder</tspan></text></g>
<g id="m-backall2"><polygon class="io" points="1392.5,2013.5 1446.5,2013.5 1437.5,2042.5 1383.5,2042.5"/><text class="t" x="1415" y="2026.5"><tspan>Back to "All</tspan><tspan x="1415" dy="7">Sections"</tspan></text></g>
<g id="m-backprev3"><polygon class="io" points="1197.5,2088.5 1251.5,2088.5 1242.5,2117.5 1188.5,2117.5"/><text class="t" x="1220" y="2098"><tspan>Back to</tspan><tspan x="1220" dy="7">previous</tspan><tspan x="1220" dy="7">folder</tspan></text></g>
<g id="m-searchprev"><path class="db" d="M1302.5,2083.5 A24.5,4.5 0 0 1 1351.5,2083.5 V2122.5 A24.5,4.5 0 0 1 1302.5,2122.5 Z M1302.5,2083.5 A24.5,4.5 0 0 0 1351.5,2083.5"/><text class="t" x="1327" y="2103.5"><tspan>Search result in</tspan><tspan x="1327" dy="7">previous folder</tspan></text></g>
<g id="m-backall3"><polygon class="io" points="1197.5,2139.5 1251.5,2139.5 1242.5,2168.5 1188.5,2168.5"/><text class="t" x="1220" y="2152.5"><tspan>Back to "All</tspan><tspan x="1220" dy="7">Sections"</tspan></text></g>
<g id="m-help"><rect class="p" x="573" y="2267" width="64" height="24"/><text class="t" x="605" y="2281">Help Document</text></g>
<g id="m-viewhelp"><rect class="e" x="657" y="2267" width="78" height="25" rx="10"/><text class="t" x="696" y="2281.5">View Help Document</text></g>
<g id="m-contact"><rect class="p" x="573" y="2319" width="64" height="24"/><text class="t" x="605" y="2333">Contact Support</text></g>
<g id="m-invoke"><rect class="e" x="657" y="2313" width="78" height="36" rx="12"/><text class="t" x="696" y="2329.5"><tspan>Invoke external</tspan><tspan x="696" dy="7">application</tspan></text></g>
</svg>
